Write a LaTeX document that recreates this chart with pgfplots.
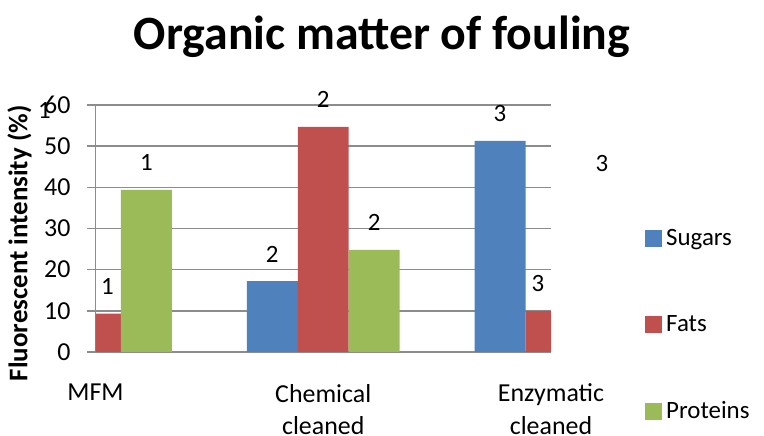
\documentclass[border=0pt]{standalone}
\usepackage{pgfplots}
\pgfplotsset{compat=1.18}
\usepackage{pgfplotstable}
\usepackage{fontspec}
\setmainfont{Carlito}

\definecolor{sugars}{HTML}{4F81BD}
\definecolor{fats}{HTML}{C0504D}
\definecolor{proteins}{HTML}{9BBB59}
\definecolor{gridgray}{HTML}{8C8C8C}

% x: category position, y: intensity, lab: data label, dx: label shift (bp)
\pgfplotstableread{
x y lab dx
0 52.0 1 0
1 17.2 2 0
2 51.3 3 0
}\sugarsdata
\pgfplotstableread{
x y lab dx
0 9.3 1 6
1 54.7 2 0
2 10.0 3 -6.5
}\fatsdata
\pgfplotstableread{
x y lab dx
0 39.4 1 0
1 24.8 2 0
2 39.3 3 0
}\proteinsdata

\pgfplotsset{
  sqlegend/.style={legend image code/.code={\fill[##1] (0bp,-4.25bp) rectangle (8.5bp,4.25bp);}},
}

\begin{document}
\begin{tikzpicture}
\useasboundingbox (0,0) rectangle (382bp,218bp);
\begin{axis}[
  at={(47.75bp,42bp)}, anchor=south west,
  scale only axis,
  width=227.75bp, height=123.5bp,
  xmin=0, xmax=2, ymin=0, ymax=60,
  ybar=0pt, bar width=0.2237,
  axis lines*=left,
  axis line style={gridgray, line width=0.8bp},
  ymajorgrids, grid style={gridgray, line width=0.8bp},
  xtick={0,1,2},
  xtick style={draw=none},
  ytick style={gridgray, line width=0.8bp},
  tick align=outside, major tick length=4bp,
  xticklabels={MFM, Chemical\\cleaned, Enzymatic\\cleaned},
  xticklabel style={align=center, yshift=-8.5bp, font=\fontsize{13}{16.5}\selectfont},
  ytick={0,10,...,60},
  yticklabel style={xshift=-5bp, font=\fontsize{13}{15}\selectfont},
  /pgf/number format/assume math mode=true,
  ylabel={Fluorescent intensity (\%)},
  every axis y label/.style={at={(axis description cs:-0.167,0.44)}, rotate=90, anchor=center,
    font=\fontsize{13.5}{16}\selectfont\bfseries},
  title={Organic matter of fouling},
  title style={at={(axis description cs:0.629,1.175)}, anchor=base, font=\fontsize{24}{28}\selectfont\bfseries},
  point meta=explicit symbolic,
  nodes near coords,
  visualization depends on={\thisrow{dx} \as \dx},
  nodes near coords style={anchor=center, yshift=13.5bp, xshift=\dx*1bp, font=\fontsize{12.5}{15}\selectfont, text=black},
  legend style={draw=none, fill=none, at={(axis description cs:1.206,0.515)}, anchor=north west,
    font=\fontsize{12.5}{15}\selectfont, row sep=29.5bp, inner sep=0pt},
  legend cell align=left,
]
\addplot[fill=sugars, draw=none, sqlegend] table[x=x, y=y, meta=lab] {\sugarsdata};
\addplot[fill=fats, draw=none, sqlegend] table[x=x, y=y, meta=lab] {\fatsdata};
\addplot[fill=proteins, draw=none, sqlegend] table[x=x, y=y, meta=lab] {\proteinsdata};
\legend{Sugars, Fats, Proteins}
\end{axis}
\end{tikzpicture}
\end{document}
